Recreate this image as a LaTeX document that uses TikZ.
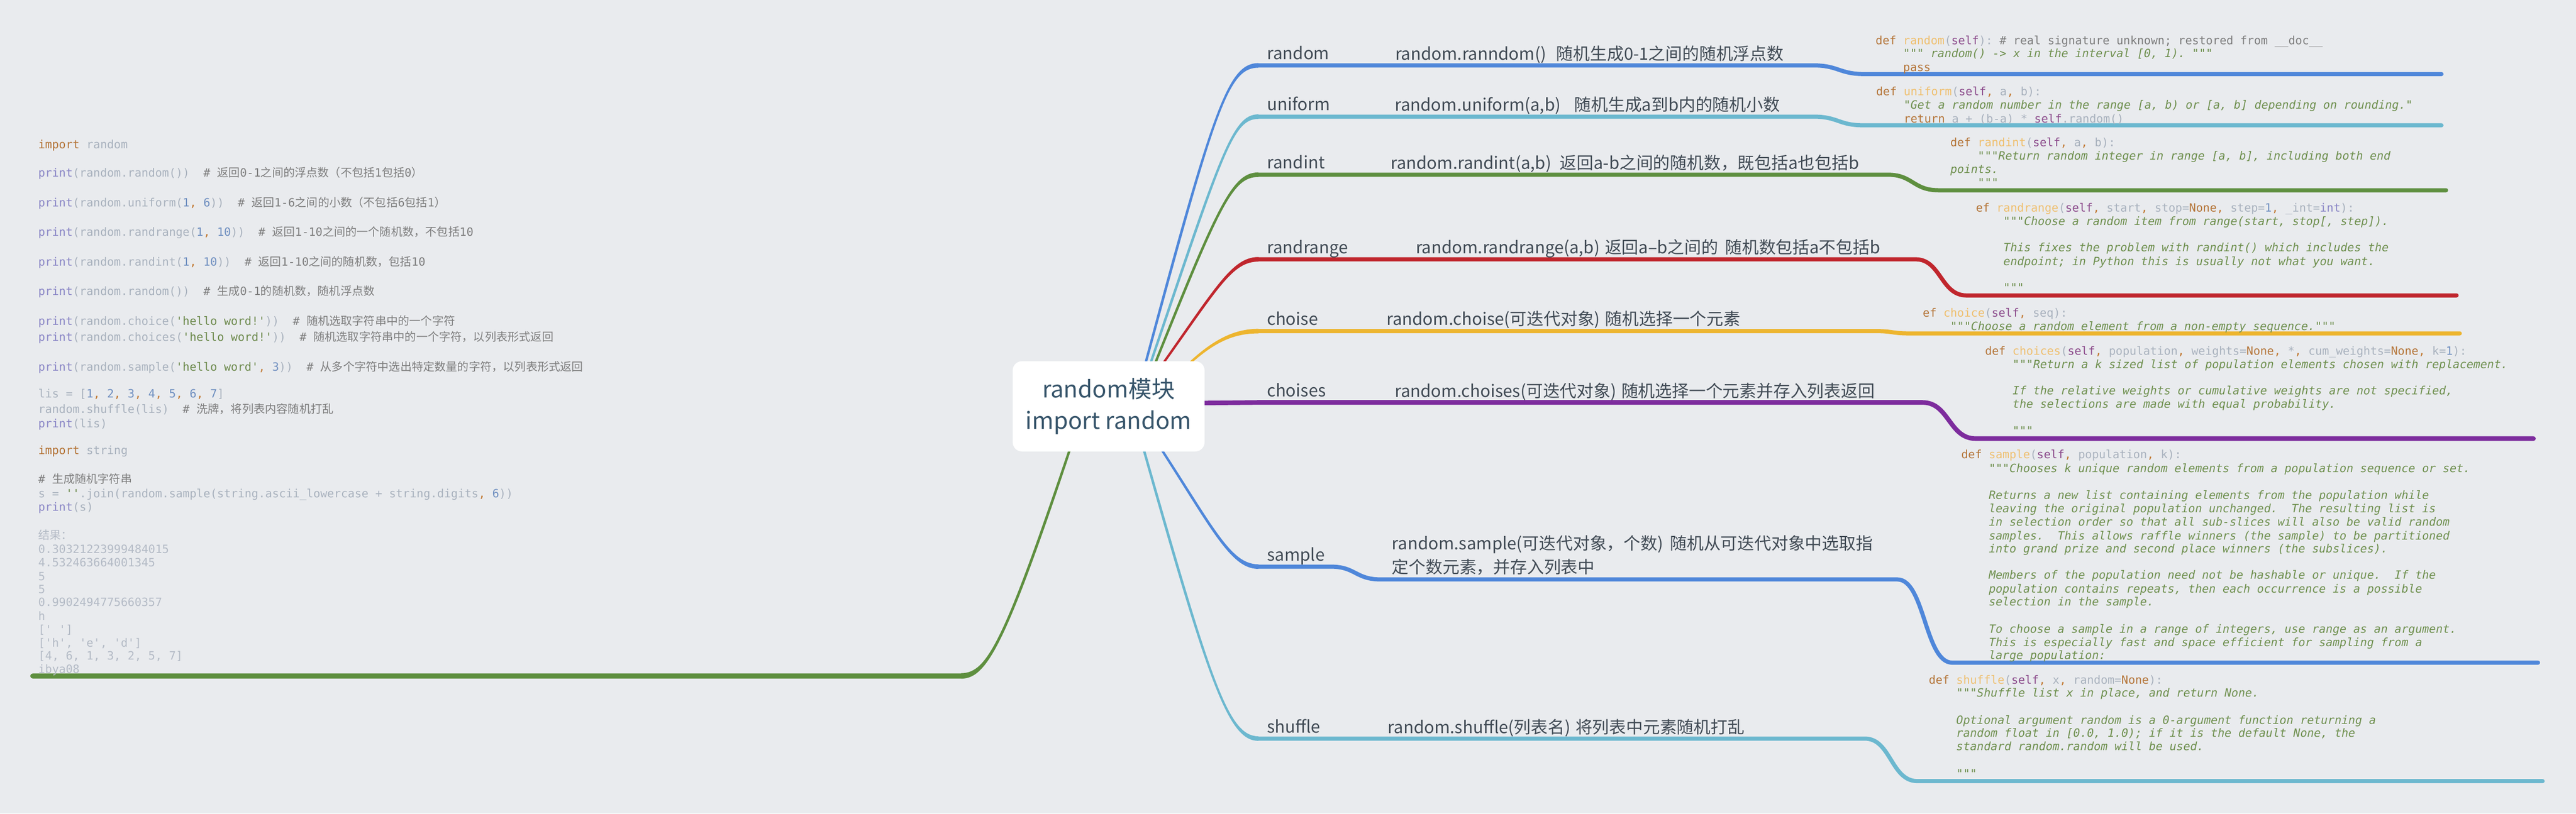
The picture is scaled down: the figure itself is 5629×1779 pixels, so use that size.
\documentclass[tikz,border=0pt]{standalone}
\usepackage{fontspec}
\setmainfont{Noto Sans CJK SC}
\newfontfamily\cjk{Noto Sans CJK SC}
\newfontfamily\codefont{DejaVu Sans Mono}
\usetikzlibrary{calc}
\frenchspacing
\definecolor{bgc}{HTML}{E9EBEE}
\definecolor{cblue}{HTML}{4F87DA}
\definecolor{ccyan}{HTML}{6CB8CF}
\definecolor{cgreen}{HTML}{5E8F3F}
\definecolor{cred}{HTML}{C0262D}
\definecolor{cyel}{HTML}{EDB52F}
\definecolor{cpur}{HTML}{7D2C9D}
\definecolor{labc}{HTML}{414B55}
\definecolor{ctrc}{HTML}{36546A}
\definecolor{cid}{HTML}{A9B2BE}
\definecolor{ckw}{HTML}{B5763A}
\definecolor{cfn}{HTML}{EFC070}
\definecolor{cself}{HTML}{8C4C8C}
\definecolor{ccom}{HTML}{C27A34}
\definecolor{cnum}{HTML}{6F8FC0}
\definecolor{cstr}{HTML}{6D8A4D}
\definecolor{ccmt}{HTML}{7E7E7E}
\definecolor{cpr}{HTML}{8A86C6}
\definecolor{cdoc}{HTML}{6F904F}
\definecolor{cres}{HTML}{B4BBC6}
\newcommand\Ck[1]{\textcolor{ckw}{#1}}
\newcommand\Cf[1]{\textcolor{cfn}{#1}}
\newcommand\Cs[1]{\textcolor{cself}{#1}}
\newcommand\Cc{\textcolor{ccom}{,}}
\newcommand\Cn[1]{\textcolor{cnum}{#1}}
\newcommand\Cq[1]{\textcolor{cstr}{#1}}
\newcommand\Cm[1]{\textcolor{ccmt}{#1}}
\newcommand\Cp[1]{\textcolor{cpr}{#1}}
\newcommand\Cd[1]{\textcolor{cdoc}{\itshape #1}}
\newcommand\Han[1]{{\cjk #1}}
\newcommand\Qs{\textquotesingle}
% tapered branch: #1 colour, #2 sx, #3 sy, #4 S, #5 P1, #6 P2, #7 T, #8 end half width
\newcommand\taper[8]{%
  \fill[#1] ($(#4)+({2.6*(#2)},0)$) .. controls ($(#5)+({3.8*(#2)},0)$) and ($(#6)+(0,{#8*(#3)})$) .. ($(#7)+(0,{#8*(#3)})$)
   -- ($(#7)+(0,{-#8*(#3)})$) .. controls ($(#6)+(0,{-#8*(#3)})$) and ($(#5)+({-3.8*(#2)},0)$) .. ($(#4)+({-2.6*(#2)},0)$) -- cycle;}
\tikzset{
  cl/.style={anchor=base west, inner sep=0pt, text=cid, font=\codefont\fontsize{7.1pt}{8.3pt}\selectfont},
  res/.style={cl, text=cres},
  lbl/.style={anchor=base west, inner sep=0pt, text=labc, font=\fontsize{10.5pt}{13pt}\selectfont},
  hl/.style={line width=2.56pt, line cap=round, line join=round},
  ctrbox/.style={fill=white, rounded corners=0.2cm, minimum width=4.19cm, minimum height=1.97cm,
    inner sep=0pt, align=center, text=ctrc, font=\fontsize{14.5pt}{19.6pt}\selectfont},
}
\begin{document}
\begin{tikzpicture}[x=0.01cm, y=-0.01cm]
\useasboundingbox (0,0) rectangle (5629,1779);
\fill[bgc] (0,0) rectangle (5629,1779);

% ---------- coordinates ----------
\coordinate (sR) at (2480,880); \coordinate (pR1) at (2651,246); \coordinate (pR2) at (2680,143); \coordinate (tR) at (2750,143);
\coordinate (aR) at (3962,143); \coordinate (bR) at (4075,162); \coordinate (eR) at (5335,162);
\coordinate (sU) at (2485,880); \coordinate (pU1) at (2668,342); \coordinate (pU2) at (2690,255); \coordinate (tU) at (2750,255);
\coordinate (aU) at (3962,255); \coordinate (bU) at (4072,274); \coordinate (eU) at (5335,274);
\coordinate (sI) at (2490,880); \coordinate (pI1) at (2661,452); \coordinate (pI2) at (2690,382); \coordinate (tI) at (2750,382);
\coordinate (aI) at (4125,382); \coordinate (bI) at (4236,416); \coordinate (eI) at (5345,416);
\coordinate (sA) at (2480,880); \coordinate (pA1) at (2652,645); \coordinate (pA2) at (2685,567); \coordinate (tA) at (2750,567);
\coordinate (aA) at (4186,567); \coordinate (bA) at (4297,646); \coordinate (eA) at (5368,646);
\coordinate (sC) at (2520,880); \coordinate (pC1) at (2620,760); \coordinate (pC2) at (2680,724); \coordinate (tC) at (2750,724);
\coordinate (aC) at (4100,724); \coordinate (bC) at (4171,729); \coordinate (eC) at (5375,729);
\coordinate (sD) at (2560,882); \coordinate (tD) at (2750,880);
\coordinate (aD) at (4201,880); \coordinate (bD) at (4317,959); \coordinate (eD) at (5536,959);
\coordinate (sS) at (2470,880); \coordinate (pS1) at (2640,1130); \coordinate (pS2) at (2680,1239); \coordinate (tS) at (2750,1239);
\coordinate (aS) at (2908,1239); \coordinate (bS) at (3017,1267); \coordinate (cS) at (4146,1267); \coordinate (dS) at (4266,1449); \coordinate (eS) at (5546,1449);
\coordinate (sF) at (2470,880); \coordinate (pF1) at (2640,1480); \coordinate (pF2) at (2680,1615); \coordinate (tF) at (2750,1615);
\coordinate (aF) at (4075,1615); \coordinate (bF) at (4190,1708); \coordinate (eF) at (5556,1708);
\coordinate (sL) at (2372,880); \coordinate (pL1) at (2200,1400); \coordinate (pL2) at (2160,1478); \coordinate (tL) at (2100,1478);
\coordinate (eL) at (72,1478);

% ---------- branches ----------
\taper{cblue}{-1}{-1}{sR}{pR1}{pR2}{tR}{5}
\taper{ccyan}{-1}{-1}{sU}{pU1}{pU2}{tU}{5}
\taper{cgreen}{-1}{-1}{sI}{pI1}{pI2}{tI}{5}
\taper{cred}{-1}{-1}{sA}{pA1}{pA2}{tA}{5}
\taper{cyel}{-1}{-1}{sC}{pC1}{pC2}{tC}{5}
\taper{cblue}{1}{-1}{sS}{pS1}{pS2}{tS}{5}
\taper{ccyan}{1}{-1}{sF}{pF1}{pF2}{tF}{5}
\taper{cgreen}{1}{1}{sL}{pL1}{pL2}{tL}{6}

\draw[hl, cblue] (tR) -- (aR) .. controls (4018,143) and (4018,162) .. (bR) -- (eR);
\draw[hl, ccyan] (tU) -- (aU) .. controls (4017,255) and (4017,274) .. (bU) -- (eU);
\draw[hl, cgreen] (tI) -- (aI) .. controls (4180,382) and (4180,416) .. (bI) -- (eI);
\draw[hl, cred] (tA) -- (aA) .. controls (4241,567) and (4241,646) .. (bA) -- (eA);
\draw[hl, cyel] (tC) -- (aC) .. controls (4135,724) and (4135,729) .. (bC) -- (eC);
\draw[hl, cpur, line width=2.85pt] (sD) -- (tD) -- (aD) .. controls (4259,880) and (4259,959) .. (bD) -- (eD);
\draw[hl, cblue] (tS) -- (aS) .. controls (2962,1239) and (2962,1267) .. (bS) -- (cS) .. controls (4206,1267) and (4206,1449) .. (dS) -- (eS);
\draw[hl, ccyan] (tF) -- (aF) .. controls (4132,1615) and (4132,1708) .. (bF) -- (eF);
\draw[hl, cgreen, line width=3.41pt] (tL) -- (eL);

% ---------- central topic ----------
\node[ctrbox] (ctr) at (2422.5,888.5) {random模块\\import random};

% ---------- branch labels ----------
\node[lbl] (Lrandom) at (2768,130) {random};
\node[lbl] (Luniform) at (2768,242) {uniform};
\node[lbl] (Lrandint) at (2768,369) {randint};
\node[lbl] (Lrandrange) at (2768,554) {randrange};
\node[lbl] (Lchoise) at (2768,711) {choise};
\node[lbl] (Lchoises) at (2768,867) {choises};
\node[lbl] (Lsample) at (2768,1226) {sample};
\node[lbl] (Lshuffle) at (2768,1602) {shuffle};

\node[lbl] (Drandom) at (3048,131) {random.ranndom()\hspace{0.6em}随机生成0-1之间的随机浮点数};
\node[lbl] (Duniform) at (3047,243) {random.uniform(a,b)\hspace{0.8em}随机生成a到b内的随机小数};
\node[lbl] (Drandint) at (3038,370) {random.randint(a,b)\hspace{0.5em}返回a-b之间的随机数，既包括a也包括b};
\node[lbl] (Drandrange) at (3093,555) {random.randrange(a,b)\hspace{0.3em}返回a–b之间的\hspace{0.4em}随机数包括a不包括b};
\node[lbl] (Dchoise) at (3029,711) {random.choise(可迭代对象)\hspace{0.3em}随机选择一个元素};
\node[lbl] (Dchoises) at (3047,868) {random.choises(可迭代对象)\hspace{0.3em}随机选择一个元素并存入列表返回};
\node[lbl] (Dsample) at (3041,1202) {random.sample(可迭代对象，个数)\hspace{0.4em}随机从可迭代对象中选取指};
\node[lbl] (Dsamplex) at (3041,1254) {定个数元素，并存入列表中};
\node[lbl] (Dshuffle) at (3032,1604) {random.shuffle(列表名)\hspace{0.3em}将列表中元素随机打乱};

% ---------- left code ----------
\node[cl] (lc1) at (83,325) {\Ck{import} random};
\node[cl] (lc2) at (83,387) {\Cp{print}(random.random())~~\Cm{\# \Han{返回}0-1\Han{之间的浮点数（不包括}1\Han{包括}0\Han{）}}};
\node[cl] (lc3) at (83,452) {\Cp{print}(random.uniform(\Cn{1}\Cc~\Cn{6}))~~\Cm{\# \Han{返回}1-6\Han{之间的小数（不包括}6\Han{包括}1\Han{）}}};
\node[cl] (lc4) at (83,516) {\Cp{print}(random.randrange(\Cn{1}\Cc~\Cn{10}))~~\Cm{\# \Han{返回}1-10\Han{之间的一个随机数，不包括}10}};
\node[cl] (lc5) at (83,582) {\Cp{print}(random.randint(\Cn{1}\Cc~\Cn{10}))~~\Cm{\# \Han{返回}1-10\Han{之间的随机数，包括}10}};
\node[cl] (lc6) at (83,646) {\Cp{print}(random.random())~~\Cm{\# \Han{生成}0-1\Han{的随机数，随机浮点数}}};
\node[cl] (lc7) at (83,711) {\Cp{print}(random.choice(\Cq{\Qs hello word!\Qs}))~~\Cm{\# \Han{随机选取字符串中的一个字符}}};
\node[cl] (lc8) at (83,746) {\Cp{print}(random.choices(\Cq{\Qs hello word!\Qs}))~~\Cm{\# \Han{随机选取字符串中的一个字符，以列表形式返回}}};
\node[cl] (lc9) at (83,811) {\Cp{print}(random.sample(\Cq{\Qs hello word\Qs}\Cc~\Cn{3}))~~\Cm{\# \Han{从多个字符中选出特定数量的字符，以列表形式返回}}};
\node[cl] (lc10) at (83,870) {lis = [\Cn{1}\Cc~\Cn{2}\Cc~\Cn{3}\Cc~\Cn{4}\Cc~\Cn{5}\Cc~\Cn{6}\Cc~\Cn{7}]};
\node[cl] (lc11) at (83,903) {random.shuffle(lis)~~\Cm{\# \Han{洗牌，将列表内容随机打乱}}};
\node[cl] (lc12) at (83,935) {\Cp{print}(lis)};
\node[cl] (lc13) at (83,994) {\Ck{import} string};
\node[cl] (lc14) at (83,1057) {\Cm{\# \Han{生成随机字符串}}};
\node[cl] (lc15) at (83,1088) {s = \Cq{\Qs\Qs}.join(random.sample(string.ascii\_lowercase + string.digits\Cc~\Cn{6}))};
\node[cl] (lc16) at (83,1117) {\Cp{print}(s)};
\node[res] (lc17) at (83,1179) {\Han{结果：}};
\node[res] (lc18) at (83,1210) {0.30321223999484015};
\node[res] (lc19) at (83,1239) {4.532463664001345};
\node[res] (lc20) at (83,1269) {5};
\node[res] (lc21) at (83,1297) {5};
\node[res] (lc22) at (83,1326) {0.9902494775660357};
\node[res] (lc23) at (83,1356) {h};
\node[res] (lc24) at (83,1385) {[\Qs~\Qs]};
\node[res] (lc25) at (83,1414) {[\Qs h\Qs,~\Qs e\Qs,~\Qs d\Qs]};
\node[res] (lc26) at (83,1443) {[4,~6,~1,~3,~2,~5,~7]};
\node[res] (lc27) at (83,1472) {ibya08};

% ---------- right code ----------
\node[cl] (rc1) at (4098,97) {\Ck{def} \Cf{random}(\Cs{self}): \Cm{\# real signature unknown; restored from \_\_doc\_\_}};
\node[cl] (rc2) at (4098,126) {~~~~\Cd{""" random() -> x in the interval [0, 1). """}};
\node[cl] (rc3) at (4098,156) {~~~~\Ck{pass}};

\node[cl] (rc4) at (4099,209) {\Ck{def} \Cf{uniform}(\Cs{self}\Cc~a\Cc~b):};
\node[cl] (rc5) at (4099,238) {~~~~\Cd{"Get a random number in the range [a, b) or [a, b] depending on rounding."}};
\node[cl] (rc6) at (4099,268) {~~~~\Ck{return} a + (b-a) * \Cs{self}.random()};

\node[cl] (rc7) at (4261,320) {\Ck{def} \Cf{randint}(\Cs{self}\Cc~a\Cc~b):};
\node[cl] (rc8) at (4261,349) {~~~~\Cd{"""Return random integer in range [a, b], including both end}};
\node[cl] (rc9) at (4261,379) {\Cd{points.}};
\node[cl] (rc10) at (4261,408) {~~~~\Cd{"""}};

\node[cl] (rc11) at (4317,463) {\Ck{ef} \Cf{randrange}(\Cs{self}\Cc~start\Cc~stop=\Ck{None}\Cc~step=\Cn{1}\Cc~\_int=\Cp{int}):};
\node[cl] (rc12) at (4317,492) {~~~~\Cd{"""Choose a random item from range(start, stop[, step]).}};
\node[cl] (rc13) at (4317,550) {~~~~\Cd{This fixes the problem with randint() which includes the}};
\node[cl] (rc14) at (4317,580) {~~~~\Cd{endpoint; in Python this is usually not what you want.}};
\node[cl] (rc15) at (4317,638) {~~~~\Cd{"""}};

\node[cl] (rc16) at (4201,693) {\Ck{ef} \Cf{choice}(\Cs{self}\Cc~seq):};
\node[cl] (rc17) at (4201,722) {~~~~\Cd{"""Choose a random element from a non-empty sequence."""}};

\node[cl] (rc18) at (4337,776) {\Ck{def} \Cf{choices}(\Cs{self}\Cc~population\Cc~weights=\Ck{None}\Cc~*\Cc~cum\_weights=\Ck{None}\Cc~k=\Cn{1}):};
\node[cl] (rc19) at (4337,805) {~~~~\Cd{"""Return a k sized list of population elements chosen with replacement.}};
\node[cl] (rc20) at (4337,863) {~~~~\Cd{If the relative weights or cumulative weights are not specified,}};
\node[cl] (rc21) at (4337,892) {~~~~\Cd{the selections are made with equal probability.}};
\node[cl] (rc22) at (4337,951) {~~~~\Cd{"""}};

\node[cl] (rc23) at (4285,1003) {\Ck{def} \Cf{sample}(\Cs{self}\Cc~population\Cc~k):};
\node[cl] (rc24) at (4285,1033) {~~~~\Cd{"""Chooses k unique random elements from a population sequence or set.}};
\node[cl] (rc25) at (4285,1092) {~~~~\Cd{Returns a new list containing elements from the population while}};
\node[cl] (rc26) at (4285,1121) {~~~~\Cd{leaving the original population unchanged.~~The resulting list is}};
\node[cl] (rc27) at (4285,1150) {~~~~\Cd{in selection order so that all sub-slices will also be valid random}};
\node[cl] (rc28) at (4285,1180) {~~~~\Cd{samples.~~This allows raffle winners (the sample) to be partitioned}};
\node[cl] (rc29) at (4285,1209) {~~~~\Cd{into grand prize and second place winners (the subslices).}};
\node[cl] (rc30) at (4285,1266) {~~~~\Cd{Members of the population need not be hashable or unique.~~If the}};
\node[cl] (rc31) at (4285,1296) {~~~~\Cd{population contains repeats, then each occurrence is a possible}};
\node[cl] (rc32) at (4285,1325) {~~~~\Cd{selection in the sample.}};
\node[cl] (rc33) at (4285,1384) {~~~~\Cd{To choose a sample in a range of integers, use range as an argument.}};
\node[cl] (rc34) at (4285,1413) {~~~~\Cd{This is especially fast and space efficient for sampling from a}};
\node[cl] (rc35) at (4285,1442) {~~~~\Cd{large population:}};

\node[cl] (rc36) at (4214,1496) {\Ck{def} \Cf{shuffle}(\Cs{self}\Cc~x\Cc~random=\Ck{None}):};
\node[cl] (rc37) at (4214,1524) {~~~~\Cd{"""Shuffle list x in place, and return None.}};
\node[cl] (rc38) at (4214,1583) {~~~~\Cd{Optional argument random is a 0-argument function returning a}};
\node[cl] (rc39) at (4214,1612) {~~~~\Cd{random float in [0.0, 1.0); if it is the default None, the}};
\node[cl] (rc40) at (4214,1641) {~~~~\Cd{standard random.random will be used.}};
\node[cl] (rc41) at (4214,1700) {~~~~\Cd{"""}};
\end{tikzpicture}
\end{document}
